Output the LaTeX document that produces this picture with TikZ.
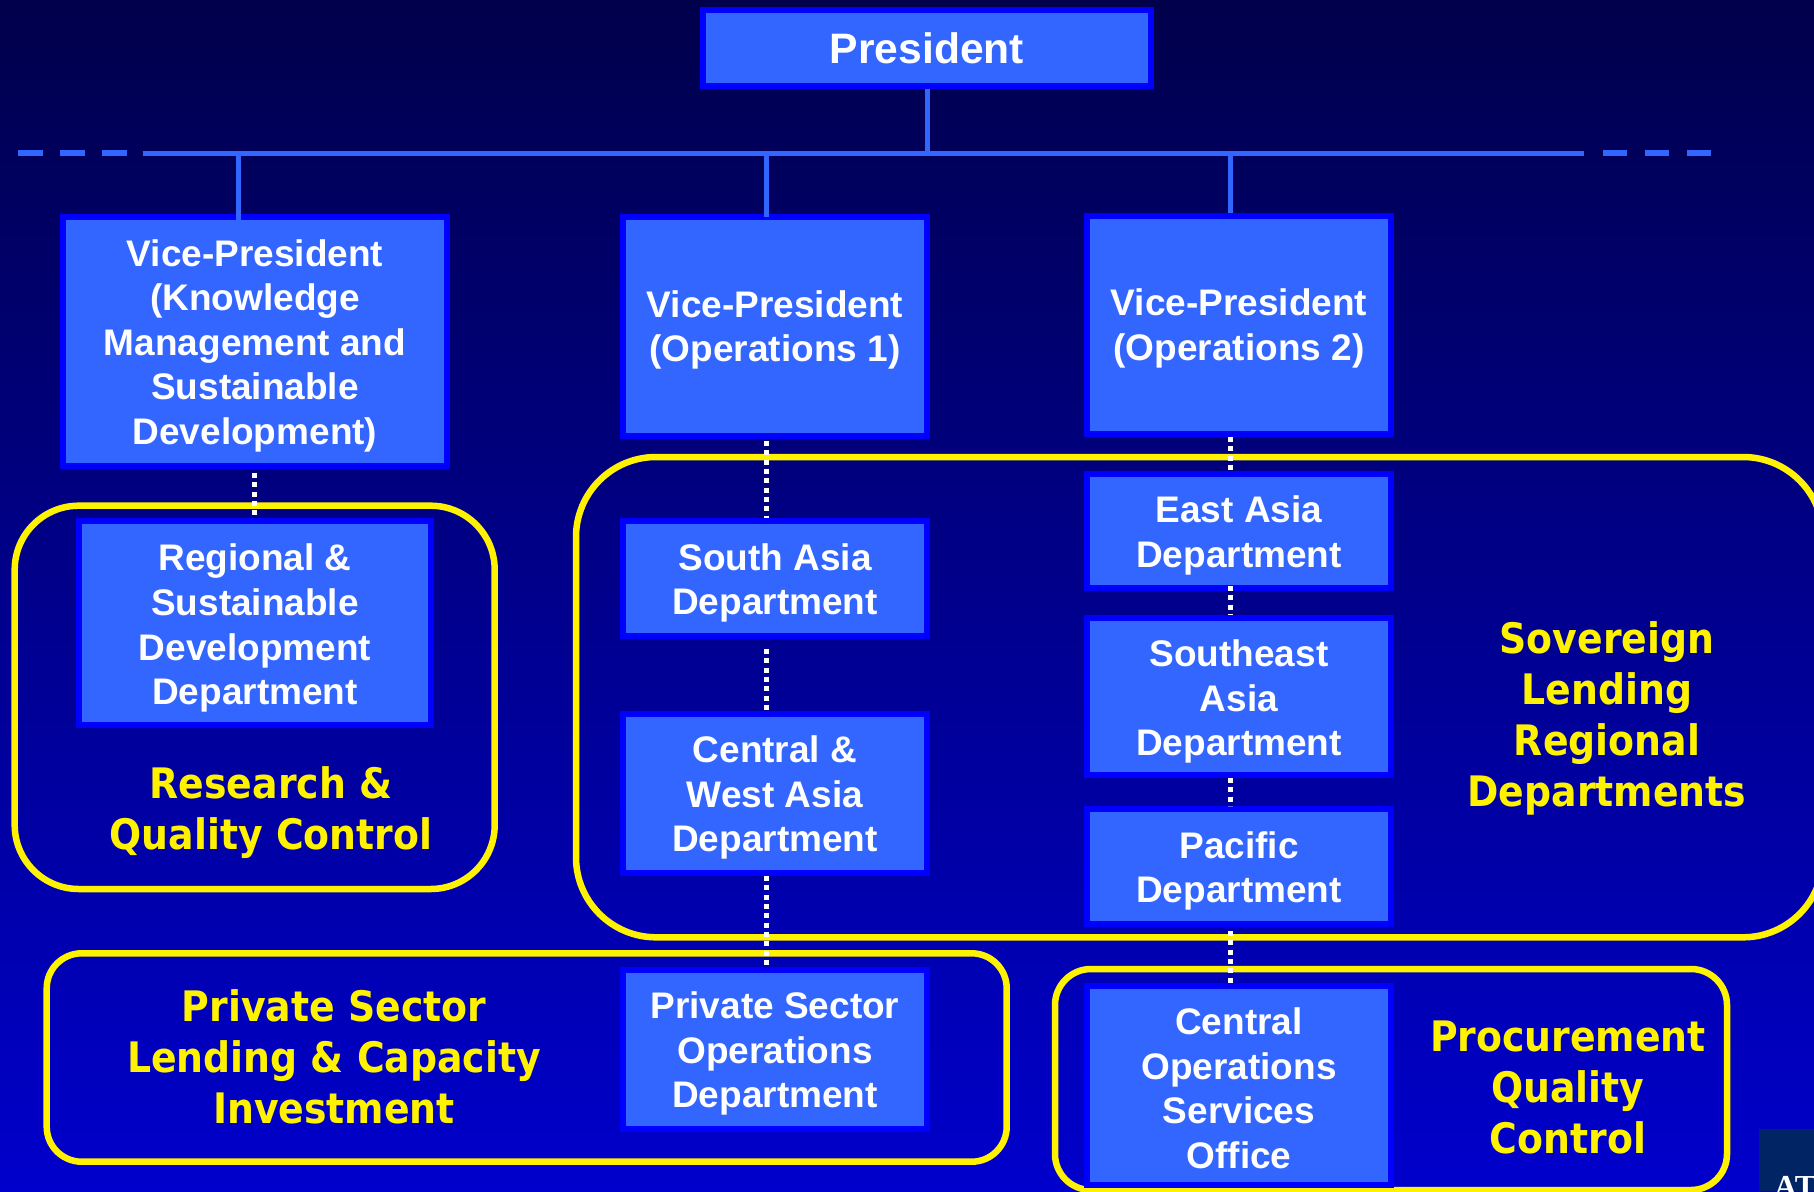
\documentclass[tikz,border=0pt]{standalone}
\usepackage{fontspec}
\setmainfont{Liberation Sans}
\newfontfamily\yfont[FakeStretch=0.9]{DejaVu Sans}
\newfontfamily\tfont{Liberation Serif}
\definecolor{boxfill}{RGB}{51,102,255}
\definecolor{boxedge}{RGB}{0,0,255}
\definecolor{bgtop}{RGB}{0,0,75}
\definecolor{bgbot}{RGB}{0,0,204}
\definecolor{corner}{RGB}{0,36,100}
\tikzset{
  unitbox/.style={draw=boxedge,fill=boxfill,line width=6pt,inner sep=0pt,outer sep=3pt,align=center,text=white,
    font=\bfseries\fontsize{37}{44.6}\selectfont},
  busline/.style={draw=boxfill,line width=5pt},
  busdash/.style={draw=boxfill,line width=6pt},
  dotline/.style={draw=white,line width=5pt,dash pattern=on 5pt off 4.33pt},
  ring/.style={draw=yellow,line width=6.5pt},
  ringtext/.style={text=yellow,align=center,inner sep=0pt,font=\yfont\bfseries\fontsize{42}{51}\selectfont}
}
% name, x0, y0, x1, y1 (outer edges), text
\newcommand{\unitbox}[6]{\node[unitbox,minimum width=#4pt-#2pt-6pt,minimum height=#5pt-#3pt-6pt] (#1) at ({(#2+#4)/2},{(#3+#5)/2}) {\rule{0pt}{37.6pt}#6\rule[-10pt]{0pt}{10pt}};}
\begin{document}
\begin{tikzpicture}[x=1pt,y=-1pt]
\useasboundingbox (0,0) rectangle (1814,1191);
\clip (0,0) rectangle (1814,1191);
\shade[top color=bgtop,bottom color=bgbot] (0,0) rectangle (1814,1191);
% yellow groupings
\draw[ring,rounded corners=64pt] (14.7,505.7) rectangle (494.7,889);
\draw[ring,rounded corners=80pt] (576,457) rectangle (1823,937.3);
\draw[ring,rounded corners=35pt] (46.7,953.3) rectangle (1006.7,1161.7);
\draw[ring,rounded corners=36pt] (1055,969) rectangle (1727,1190);
% bus
\coordinate (busL) at (143,153.3);
\coordinate (busR) at (1584,153.3);
\coordinate (b1) at (238,153.3);
\coordinate (b2) at (766.7,153.3);
\coordinate (b3) at (1230.7,153.3);
\coordinate (dl0) at (18,153.3);
\coordinate (dl1) at (127,153.3);
\coordinate (dr0) at (1603,153.3);
\coordinate (dr1) at (1711,153.3);
\draw[busline] (busL) -- (busR);
\draw[busdash,dash pattern=on 24.5pt off 17.5pt] (dl0) -- (dl1);
\draw[busdash,dash pattern=on 24pt off 18pt] (dr0) -- (dr1);
% boxes
\unitbox{pres}{700}{7}{1154}{89}{\raisebox{-2pt}{\fontsize{42.6}{50}\selectfont President}}
\unitbox{vpa}{60}{214}{450}{469}{Vice-President\\(Knowledge\\Management and\\Sustainable\\Development)}
\unitbox{vpb}{620}{214}{930}{439}{Vice-President\\(Operations 1)\rule[-12pt]{0pt}{1pt}}
\unitbox{vpc}{1084}{213}{1394}{437}{Vice-President\\(Operations 2)\rule[-12pt]{0pt}{1pt}}
\unitbox{rsd}{76}{518}{434}{728}{\rule{0pt}{39.6pt}Regional \&\\Sustainable\\Development\\Department}
\unitbox{sad}{620}{518}{930}{639}{South Asia\\Department}
\unitbox{cwa}{620}{711}{930}{876}{Central \&\\West Asia\\Department}
\unitbox{psd}{620}{967}{930}{1131.7}{Private Sector\\Operations\\Department}
\unitbox{ead}{1084}{471}{1394}{591}{East Asia\\Department}
\unitbox{sea}{1084}{615}{1394}{778}{\rule{0pt}{39.6pt}Southeast\\Asia\\Department}
\unitbox{pac}{1084}{806}{1394}{927}{Pacific\\Department}
\unitbox{cos}{1084}{983}{1394}{1188}{\rule{0pt}{42pt}Central\\Operations\\Services\\Office}
% solid connectors
\draw[busline] (pres.south) -- (pres.south |- busL);
\draw[busline] (b1) -- (b1 |- vpa.north) -- ++(0,6);
\draw[busline] (b2) -- (b2 |- vpb.north) -- ++(0,3);
\draw[busline] (b3) -- (b3 |- vpc.north);
% dotted connectors
\coordinate (d1) at (254.6,473);
\coordinate (d2) at (766.7,441);
\coordinate (d3) at (1230.7,437);
\draw[dotline] (d1) -- (d1 |- rsd.north);
\draw[dotline] (d2) -- (d2 |- sad.north);
\draw[dotline] (d2 |- sad.south) ++(0,10) -- (d2 |- cwa.north);
\draw[dotline] (d2 |- cwa.south) -- (d2 |- psd.north);
\draw[dotline] (d3) -- (d3 |- ead.north);
\draw[dotline] (d3 |- ead.south) ++(0,-5) -- (d3 |- sea.north);
\draw[dotline] (d3 |- sea.south) -- (d3 |- pac.north);
\draw[dotline] (d3 |- pac.south) ++(0,4) -- (d3 |- cos.north);
% group captions
\node[ringtext] (t1) at (271,813) {Research \&\\Quality Control};
\node[ringtext] (t2) at (1607,718) {Sovereign\\Lending\\Regional\\Departments};
\node[ringtext] (t3) at (334,1057) {Private Sector\\Lending \& Capacity\\Investment};
\node[ringtext] (t4) at (1568,1087) {Procurement\\Quality\\Control};
% corner logo
\fill[corner] (1759,1129) rectangle (1814,1191);
\node[anchor=base west,inner sep=0pt,text=white,font=\tfont\bfseries\fontsize{32}{32}\selectfont] (logo) at (1774,1197) {AT};
\end{tikzpicture}
\end{document}
